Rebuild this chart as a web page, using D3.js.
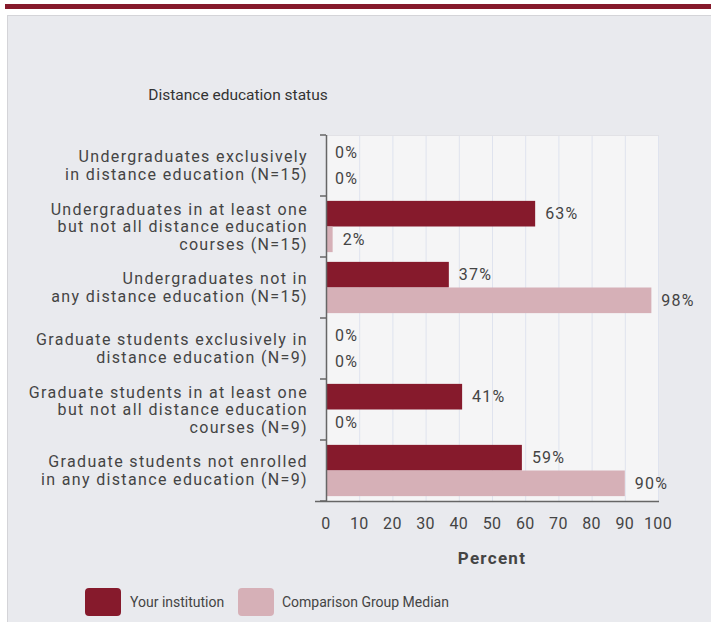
<!DOCTYPE html>
<html><head><meta charset="utf-8">
<script src="https://cdn.jsdelivr.net/npm/d3@7"></script>
<style>
html,body{margin:0;padding:0;background:#fff;}
svg{display:block;font-family:Roboto, "Liberation Sans", sans-serif;}
</style></head>
<body>
<script>
const categories = [
  ["Undergraduates exclusively", "in distance education (N=15)"],
  ["Undergraduates in at least one", "but not all distance education", "courses (N=15)"],
  ["Undergraduates not in", "any distance education (N=15)"],
  ["Graduate students exclusively in", "distance education (N=9)"],
  ["Graduate students in at least one", "but not all distance education", "courses (N=9)"],
  ["Graduate students not enrolled", "in any distance education (N=9)"]
];
const seriesNames = ["Your institution", "Comparison Group Median"];
const institution = [0, 63, 37, 0, 41, 59];
const comparison = [0, 2, 98, 0, 0, 90];
const xTicks = [0,10,20,30,40,50,60,70,80,90,100];
const title = "Distance education status";
const xTitle = "Percent";

const W = 711, H = 622;
const colors = ["#861a2c", "#d6b0b7"];
const svg = d3.select("body").append("svg").attr("width", W).attr("height", H);

// top band and panel
svg.append("rect").attr("x",5).attr("y",4).attr("width",W-5).attr("height",5).attr("fill","#861a2c");
svg.append("rect").attr("x",7.5).attr("y",15.5).attr("width",W).attr("height",H).attr("fill","#e9eaee").attr("stroke","#d4d4d8");

const m = {left:326, right:659, top:135, bottom:501};
const x = d3.scaleLinear().domain([0,100]).range([m.left, m.left+332]);
const y = d3.scaleBand().domain(d3.range(categories.length)).range([m.top, m.bottom]);
const sub = d3.scaleBand().domain([0,1]).range([0, y.bandwidth()]).paddingOuter(0.19).paddingInner(0);

svg.append("rect").attr("x",m.left).attr("y",m.top).attr("width",m.right-m.left).attr("height",m.bottom-m.top).attr("fill","#f5f5f6");

// grid
svg.append("g").selectAll("line").data(xTicks.slice(1)).join("line")
  .attr("x1",d=>x(d)+0.5).attr("x2",d=>x(d)+0.5).attr("y1",m.top).attr("y2",m.bottom)
  .attr("stroke","#dfe3ee").attr("stroke-width",1);
svg.append("line").attr("x1",m.left).attr("x2",m.right).attr("y1",m.top+0.5).attr("y2",m.top+0.5).attr("stroke","#e2e2e6");

// title
svg.append("text").attr("x",238).attr("y",95).attr("dy","0.35em").attr("text-anchor","middle")
  .attr("font-size",15.5).attr("fill","#333").text(title);

const series = [institution, comparison];
series.forEach((vals, s) => {
  svg.append("g").selectAll("rect").data(vals).join("rect")
    .attr("x", x(0)).attr("y",(d,i)=>y(i)+sub(s))
    .attr("width", d=>x(d)-x(0)).attr("height", sub.bandwidth())
    .attr("fill", colors[s]);
  svg.append("g").selectAll("text").data(vals).join("text")
    .attr("x", d=> d===0 ? x(0)+9 : x(d)+10)
    .attr("y",(d,i)=>y(i)+sub(s)+sub.bandwidth()/2).attr("dy","0.35em")
    .attr("font-size",16).attr("letter-spacing",1.2).attr("fill","#444").text(d=>d+"%");
});

// y axis
const yAxis = svg.append("g");
yAxis.append("line").attr("x1",m.left+0.5).attr("x2",m.left+0.5).attr("y1",m.top).attr("y2",m.bottom).attr("stroke","#666").attr("stroke-width",1.5);
yAxis.selectAll(".tk").data(d3.range(categories.length+1)).join("line")
  .attr("x1",m.left-6).attr("x2",m.left).attr("y1",i=>m.top+i*y.step()).attr("y2",i=>m.top+i*y.step())
  .attr("stroke","#666").attr("stroke-width",1.5);
categories.forEach((lines,i)=>{
  const cy = y(i)+y.bandwidth()/2;
  const lh = 17.5;
  const t = svg.append("text").attr("text-anchor","end").attr("font-size",16).attr("letter-spacing",1.35).attr("fill","#444");
  lines.forEach((ln,k)=>{
    t.append("tspan").attr("x",m.left-18).attr("y", cy + (k-(lines.length-1)/2)*lh).attr("dy","0.35em").text(ln);
  });
});

// x axis
svg.append("line").attr("x1",315).attr("x2",m.right).attr("y1",m.bottom+0.5).attr("y2",m.bottom+0.5).attr("stroke","#666").attr("stroke-width",1.5);
svg.append("g").selectAll("text").data(xTicks).join("text")
  .attr("x",d=>x(d)).attr("y",523).attr("dy","0.35em").attr("text-anchor","middle")
  .attr("font-size",16).attr("letter-spacing",0.3).attr("fill","#444").text(d=>d);
svg.append("text").attr("x",492).attr("y",558).attr("dy","0.35em").attr("text-anchor","middle")
  .attr("font-size",17).attr("font-weight","bold").attr("letter-spacing",1.3).attr("fill","#444").text(xTitle);

// legend
const lg = [{x:85, tx:130},{x:238, tx:282}];
lg.forEach((l,i)=>{
  svg.append("rect").attr("x",l.x).attr("y",588).attr("width",36).attr("height",28).attr("rx",4).attr("fill",colors[i]);
  svg.append("text").attr("x",l.tx).attr("y",602).attr("dy","0.35em").attr("font-size",14).attr("fill","#444").text(seriesNames[i]);
});
</script>
</body></html>
